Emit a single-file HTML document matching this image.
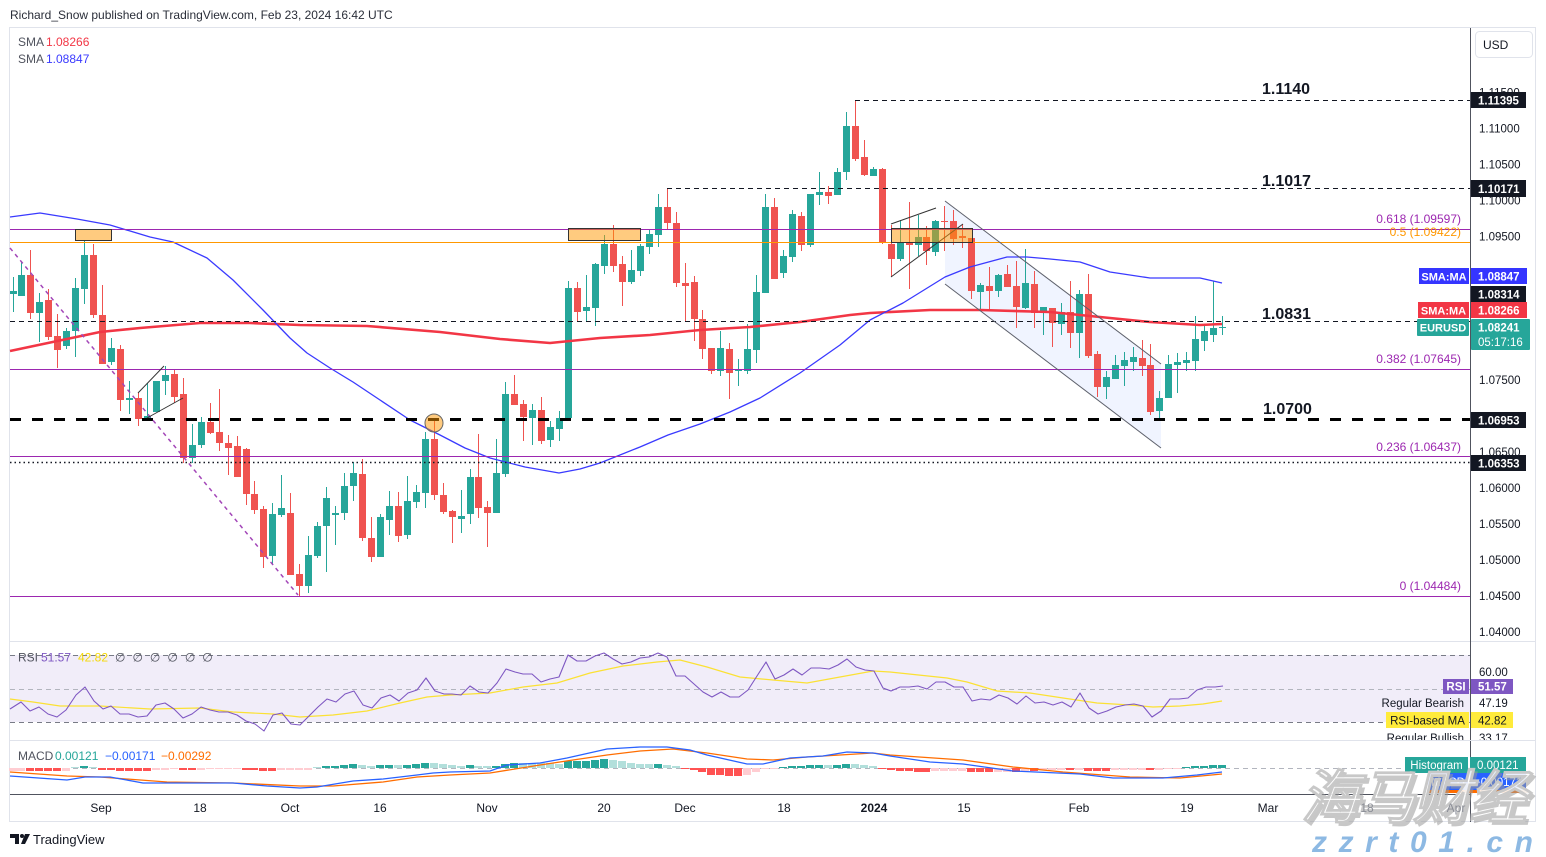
<!DOCTYPE html>
<html><head><meta charset="utf-8"><style>
html,body{margin:0;padding:0;background:#fff;}
svg{display:block;}
text{font-family:"Liberation Sans",Arial,sans-serif;}
</style></head><body>
<svg width="1546" height="857" viewBox="0 0 1546 857" xmlns="http://www.w3.org/2000/svg">
<defs><clipPath id="rsiclip"><rect x="1300" y="642" width="246" height="98"/></clipPath></defs>
<rect width="1546" height="857" fill="#fff"/>
<text x="10" y="19" font-size="12" fill="#2a2e39">Richard_Snow published on TradingView.com, Feb 23, 2024 16:42 UTC</text>
<rect x="9.5" y="27.5" width="1526" height="794" fill="none" stroke="#e0e3eb"/>

<!-- RSI band -->
<rect x="10" y="655" width="1460" height="67" fill="#f1edf9"/>
<g stroke="#787b86" stroke-dasharray="5 4" stroke-width="1">
<line x1="10" y1="655.5" x2="1470" y2="655.5"/>
<line x1="10" y1="722.5" x2="1470" y2="722.5"/>
<line x1="10" y1="689.5" x2="1470" y2="689.5" stroke="#b2b5be"/>
<line x1="10" y1="768.5" x2="1470" y2="768.5" stroke="#b2b5be"/>
</g>
<g stroke="#e0e3eb" stroke-width="1">
<line x1="10" y1="641.5" x2="1536" y2="641.5"/>
<line x1="10" y1="740.5" x2="1536" y2="740.5"/>
</g>
<line x1="10" y1="794.5" x2="1470" y2="794.5" stroke="#50535e"/>
<line x1="1470.5" y1="28" x2="1470.5" y2="822" stroke="#50535e"/>

<polygon points="945,201 1161,364 1161,448 945,284" fill="rgba(41,98,255,0.07)"/>

<!-- candles -->
<path fill="#26a69a" d="M10 291h7v3h-7zM18 275h7v21h-7zM36 302h7v11h-7zM63 331h7v15h-7zM72 288h7v43h-7zM81 255h7v34h-7zM108 348h7v14h-7zM126 398h7v2h-7zM144 416h7v3h-7zM153 381h7v31h-7zM162 375h7v6h-7zM189 445h7v13h-7zM198 422h7v23h-7zM269 514h7v42h-7zM278 508h7v7h-7zM305 555h7v31h-7zM314 526h7v30h-7zM323 498h7v28h-7zM332 513h7v2h-7zM341 486h7v27h-7zM350 473h7v13h-7zM377 517h7v40h-7zM386 506h7v14h-7zM404 501h7v34h-7zM413 492h7v10h-7zM422 439h7v54h-7zM458 516h7v3h-7zM467 477h7v37h-7zM493 473h7v40h-7zM502 394h7v80h-7zM529 410h7v8h-7zM547 427h7v13h-7zM556 418h7v11h-7zM565 288h7v130h-7zM583 307h7v4h-7zM592 264h7v44h-7zM601 244h7v22h-7zM628 270h7v12h-7zM637 246h7v25h-7zM646 234h7v13h-7zM655 207h7v28h-7zM717 348h7v23h-7zM735 369h7v2h-7zM744 349h7v22h-7zM753 292h7v58h-7zM762 207h7v86h-7zM780 256h7v17h-7zM789 214h7v43h-7zM807 194h7v51h-7zM816 192h7v3h-7zM834 172h7v23h-7zM843 126h7v46h-7zM870 169h7v7h-7zM897 242h7v17h-7zM915 237h7v8h-7zM932 221h7v31h-7zM977 285h7v7h-7zM995 275h7v16h-7zM1022 283h7v25h-7zM1040 307h7v6h-7zM1058 312h7v12h-7zM1076 294h7v39h-7zM1103 377h7v10h-7zM1112 365h7v14h-7zM1121 360h7v6h-7zM1130 357h7v5h-7zM1156 398h7v13h-7zM1165 364h7v34h-7zM1174 362h7v3h-7zM1183 360h7v3h-7zM1192 339h7v22h-7zM1201 331h7v10h-7zM1210 328h7v7h-7zM1219 327h7v1h-7z"/>
<path stroke="#26a69a" stroke-width="1" fill="none" d="M13.5 277V312M21.5 262V296M39.5 293V342M66.5 328V349M75.5 278V357M84.5 240V304M111.5 338V365M129.5 381V414M147.5 383V420M156.5 381V412M165.5 366V395M192.5 424V463M201.5 417V448M272.5 503V565M281.5 475V517M308.5 536V593M317.5 522V558M326.5 487V572M335.5 506V545M344.5 473V520M353.5 462V501M380.5 514V557M389.5 491V535M407.5 476V539M416.5 485V508M425.5 432V508M461.5 490V533M470.5 469V524M496.5 439V513M505.5 382V477M532.5 404V445M550.5 421V447M559.5 411V441M568.5 281V420M586.5 275V321M595.5 263V326M604.5 235V274M631.5 250V284M640.5 244V276M649.5 230V254M658.5 194V247M720.5 331V376M738.5 359V386M747.5 324V374M756.5 275V363M765.5 194V293M783.5 250V278M792.5 210V262M810.5 194V247M819.5 172V205M837.5 168V195M846.5 112V180M873.5 167V176M900.5 220V261M918.5 215V256M935.5 220V256M980.5 283V311M998.5 274V297M1025.5 249V309M1043.5 307V335M1061.5 303V335M1079.5 290V358M1106.5 371V399M1115.5 355V379M1124.5 352V386M1133.5 347V371M1159.5 391V419M1168.5 355V398M1177.5 353V393M1186.5 352V371M1195.5 316V371M1204.5 326V351M1213.5 281V342M1222.5 316V335"/>
<path fill="#ef5350" d="M27 275h7v38h-7zM45 300h7v37h-7zM54 336h7v14h-7zM90 255h7v60h-7zM99 315h7v49h-7zM117 349h7v51h-7zM135 398h7v21h-7zM171 374h7v23h-7zM180 394h7v64h-7zM207 422h7v11h-7zM216 432h7v11h-7zM225 443h7v5h-7zM234 446h7v31h-7zM243 449h7v45h-7zM251 494h7v16h-7zM260 509h7v48h-7zM287 513h7v62h-7zM296 574h7v12h-7zM359 474h7v64h-7zM368 538h7v19h-7zM395 506h7v30h-7zM431 439h7v56h-7zM440 495h7v17h-7zM449 511h7v6h-7zM475 477h7v31h-7zM484 507h7v6h-7zM511 394h7v11h-7zM520 404h7v13h-7zM538 410h7v31h-7zM574 288h7v24h-7zM610 244h7v22h-7zM619 264h7v18h-7zM664 207h7v16h-7zM673 223h7v60h-7zM682 283h7v3h-7zM691 282h7v37h-7zM699 319h7v30h-7zM708 348h7v23h-7zM726 349h7v24h-7zM771 207h7v72h-7zM798 216h7v29h-7zM825 192h7v4h-7zM852 126h7v33h-7zM861 157h7v18h-7zM879 169h7v73h-7zM888 244h7v15h-7zM906 242h7v3h-7zM923 237h7v14h-7zM941 221h7v1h-7zM950 221h7v18h-7zM959 236h7v2h-7zM968 238h7v53h-7zM986 286h7v5h-7zM1004 274h7v13h-7zM1013 286h7v21h-7zM1031 284h7v29h-7zM1049 308h7v15h-7zM1067 312h7v21h-7zM1085 294h7v62h-7zM1094 354h7v33h-7zM1139 358h7v8h-7zM1147 365h7v47h-7z"/>
<path stroke="#ef5350" stroke-width="1" fill="none" d="M30.5 250V319M48.5 289V340M57.5 314V368M93.5 244V318M102.5 285V364M120.5 345V411M138.5 393V426M174.5 370V403M183.5 378V463M210.5 403V434M219.5 389V451M228.5 435V475M237.5 436V477M246.5 448V505M254.5 481V514M263.5 506V568M290.5 493V575M299.5 564V596M362.5 459V541M371.5 517V562M398.5 492V542M434.5 418V500M443.5 483V514M452.5 510V543M478.5 434V518M487.5 501V547M514.5 375V405M523.5 400V441M541.5 397V444M577.5 282V321M613.5 225V272M622.5 256V306M667.5 188V229M676.5 212V287M685.5 263V322M694.5 276V341M702.5 310V359M711.5 348V374M729.5 343V399M774.5 198V279M801.5 212V251M828.5 186V204M855.5 100V161M864.5 140V176M882.5 168V244M891.5 225V277M909.5 202V289M926.5 226V265M944.5 206V251M953.5 210V245M962.5 224V248M971.5 238V299M989.5 267V311M1007.5 265V287M1016.5 261V328M1034.5 271V328M1052.5 308V347M1070.5 281V348M1088.5 274V358M1097.5 351V397M1142.5 340V376M1150.5 344V415"/>

<!-- SMA lines -->
<polyline fill="none" stroke="#f23645" stroke-width="2.6" stroke-linejoin="round" points="10,351 100,332 140,328 200,323 250,323 300,325 367,326 440,332 500,339 550,343 600,338 650,335 700,330 750,327 800,322 850,315 870,313 930,310 980,310 1050,312 1100,317 1150,322 1200,325 1222,324"/>
<polyline fill="none" stroke="#3a3aff" stroke-width="1.3" stroke-linejoin="round" points="10,217 40,213 77,219 110,225 150,237 173,242 207,258 233,280 263,310 290,338 307,353 330,368 353,382 380,400 410,420 440,435 465,448 490,458 525,467 559,473 580,469 600,463 640,447 668,435 700,424 730,412 760,398 800,373 840,345 870,320 903,303 945,277 970,267 1007,257 1027,257 1050,259 1080,262 1110,272 1150,278 1200,278 1222,283"/>

<!-- horizontal levels -->
<g stroke-width="1">
<line x1="10" y1="229.5" x2="1470" y2="229.5" stroke="#9c27b0"/>
<line x1="10" y1="242.5" x2="1470" y2="242.5" stroke="#ff9800"/>
<line x1="10" y1="369.5" x2="1470" y2="369.5" stroke="#9c27b0"/>
<line x1="10" y1="456.5" x2="1470" y2="456.5" stroke="#9c27b0"/>
<line x1="10" y1="596.5" x2="1470" y2="596.5" stroke="#9c27b0"/>
<line x1="10" y1="321.5" x2="1470" y2="321.5" stroke="#131722" stroke-dasharray="5 4"/>
<line x1="855" y1="100.5" x2="1470" y2="100.5" stroke="#131722" stroke-dasharray="5 4"/>
<line x1="667" y1="188.5" x2="1470" y2="188.5" stroke="#131722" stroke-dasharray="5 4"/>
<line x1="10" y1="462.5" x2="1470" y2="462.5" stroke="#131722" stroke-width="1.5" stroke-dasharray="1.5 3"/>
</g>
<line x1="10" y1="419.5" x2="1470" y2="419.5" stroke="#000" stroke-width="3" stroke-dasharray="11 11"/>

<!-- drawings -->
<line x1="10" y1="248" x2="298" y2="595" stroke="#a346b8" stroke-width="1.5" stroke-dasharray="4 4"/>
<g stroke="#333" stroke-width="1" fill="none">
<line x1="138" y1="393" x2="164" y2="366"/>
<line x1="147" y1="418" x2="183" y2="398"/>
<line x1="891" y1="224" x2="936" y2="208"/>
<line x1="891" y1="277" x2="963" y2="224"/>
</g>
<g stroke="#5d606b" stroke-width="1">
<line x1="945" y1="201" x2="1161" y2="364"/>
<line x1="945" y1="284" x2="1161" y2="448"/>
</g>
<g fill="rgba(255,152,0,0.5)" stroke="#333" stroke-width="1">
<rect x="75.5" y="229.5" width="36" height="11"/>
<rect x="568.5" y="228.5" width="72" height="12"/>
<rect x="891.5" y="228.5" width="81" height="14"/>
<circle cx="434" cy="423" r="9" stroke="#666"/>
</g>

<!-- level labels -->
<g font-size="16" font-weight="bold" fill="#131722">
<text x="1262" y="94">1.1140</text>
<text x="1262" y="186">1.1017</text>
<text x="1262" y="319">1.0831</text>
<text x="1263" y="414">1.0700</text>
</g>
<g font-size="12" fill="#9c27b0" text-anchor="end">
<text x="1461" y="223">0.618 (1.09597)</text>
<text x="1461" y="236" fill="#ff9800">0.5 (1.09422)</text>
<text x="1461" y="363">0.382 (1.07645)</text>
<text x="1461" y="451">0.236 (1.06437)</text>
<text x="1461" y="590">0 (1.04484)</text>
</g>

<g font-size="12">
<text x="18" y="46" fill="#50535e">SMA</text><text x="46" y="46" fill="#f23645">1.08266</text>
<text x="18" y="63" fill="#50535e">SMA</text><text x="46" y="63" fill="#3a3aff">1.08847</text>
</g>

<!-- price axis -->
<rect x="1475.5" y="31.5" width="57" height="26" rx="4" fill="#fff" stroke="#e0e3eb"/>
<text x="1483" y="49" font-size="12" fill="#131722">USD</text>
<g font-size="11.5" fill="#131722">
<text x="1479" y="96.5">1.11500</text>
<text x="1479" y="132.5">1.11000</text>
<text x="1479" y="168.5">1.10500</text>
<text x="1479" y="204.5">1.10000</text>
<text x="1479" y="240.5">1.09500</text>
<text x="1479" y="276.5">1.09000</text>
<text x="1479" y="384">1.07500</text>
<text x="1479" y="456">1.06500</text>
<text x="1479" y="492">1.06000</text>
<text x="1479" y="528">1.05500</text>
<text x="1479" y="564">1.05000</text>
<text x="1479" y="600">1.04500</text>
<text x="1479" y="636">1.04000</text>
</g>
<g font-size="11.5" font-weight="bold" fill="#fff">
<rect x="1471" y="92" width="55" height="16" fill="#131722"/><text x="1478" y="104.5">1.11395</text>
<rect x="1471" y="180" width="55" height="17" fill="#131722"/><text x="1478" y="193">1.10171</text>
<rect x="1419" y="268" width="50" height="16" fill="#3535ff"/><text x="1444" y="280.5" text-anchor="middle" font-size="11">SMA:MA</text>
<rect x="1471" y="268" width="56" height="16" fill="#3535ff"/><text x="1478" y="280.5">1.08847</text>
<rect x="1471" y="286" width="55" height="16" fill="#131722"/><text x="1478" y="298.5">1.08314</text>
<rect x="1418" y="302" width="51" height="16" fill="#f23645"/><text x="1443.5" y="314.5" text-anchor="middle" font-size="11">SMA:MA</text>
<rect x="1471" y="302" width="56" height="16" fill="#f23645"/><text x="1478" y="314.5">1.08266</text>
<rect x="1417" y="319" width="52" height="17" fill="#26a69a" rx="1"/><text x="1443" y="331.5" text-anchor="middle" font-size="11">EURUSD</text>
<rect x="1471" y="319" width="59" height="31" fill="#26a69a" rx="1"/><text x="1478" y="331.5">1.08241</text><text x="1478" y="346" font-weight="normal">05:17:16</text>
<rect x="1471" y="412" width="55" height="16" fill="#131722"/><text x="1478" y="424.5">1.06953</text>
<rect x="1471" y="455" width="55" height="16" fill="#131722"/><text x="1478" y="467.5">1.06353</text>
</g>

<!-- RSI -->
<polyline fill="none" stroke="#fbe134" stroke-width="1.2" points="10,699 33,702 60,706 100,706 150,709 200,708 233,712 273,714 300,717 333,715 367,711 400,703 427,697 450,695 490,693 523,687 557,683 590,673 623,666 657,662 680,660 707,667 740,677 773,680 807,683 840,677 873,671 890,672 947,678 967,682 997,691 1030,693 1063,698 1097,703 1130,705 1153,707 1180,706 1203,704 1222,701"/>
<polyline fill="none" stroke="#7e57c2" stroke-width="1.1" stroke-linejoin="round" points="10,709 21,702 30,711 39,707 48,714 57,717 66,710 76,695 85,687 94,701 103,709 111,706 120,714 129,714 138,717 147,716 156,705 165,703 174,709 183,718 192,714 201,707 210,710 219,712 228,712 237,715 246,721 255,724 264,731 273,715 282,713 291,724 300,725 309,716 318,707 327,699 336,702 345,694 354,691 363,705 372,708 381,698 390,695 399,701 408,693 417,690 426,678 435,691 444,694 452,694 461,695 470,686 479,692 488,693 497,683 506,669 515,672 523,674 532,674 541,682 550,679 559,677 568,655 577,661 586,661 595,656 604,653 613,659 622,664 631,662 640,658 649,657 658,653 667,657 676,676 685,676 694,684 703,692 712,697 721,692 730,697 739,697 748,690 757,676 766,662 775,679 784,675 793,669 802,675 811,668 820,668 829,669 838,665 847,659 856,667 865,670 874,671 883,688 891,691 900,687 909,687 918,686 927,689 936,682 945,682 954,687 963,687 972,701 981,699 990,700 999,695 1008,698 1017,704 1026,696 1035,703 1044,702 1053,705 1062,702 1071,707 1080,693 1089,708 1098,714 1107,711 1116,707 1125,705 1134,704 1143,706 1152,717 1161,711 1170,699 1179,699 1188,698 1197,690 1206,687 1215,687 1223,686"/>
<g font-size="12">
<text x="18" y="661.5" fill="#50535e">RSI</text>
<text x="41" y="661.5" fill="#7e57c2">51.57</text>
<text x="78" y="661.5" fill="#f5d90a">42.82</text>
<text x="115" y="661.5" fill="#50535e" letter-spacing="7">∅∅∅∅∅∅</text>
</g>
<g font-size="11.5" clip-path="url(#rsiclip)">
<text x="1479" y="676" fill="#131722">60.00</text>
<rect x="1443" y="679" width="26" height="15" fill="#7e57c2"/><text x="1456" y="690.5" fill="#fff" font-weight="bold" text-anchor="middle">RSI</text>
<rect x="1471" y="679" width="42" height="15" fill="#7e57c2"/><text x="1478" y="690.5" fill="#fff" font-weight="bold">51.57</text>
<text x="1464" y="707" fill="#131722" text-anchor="end">Regular Bearish</text>
<text x="1479" y="707" fill="#131722">47.19</text>
<rect x="1386" y="712" width="83" height="16" fill="#ffeb3b"/><text x="1427.5" y="724.5" fill="#131722" text-anchor="middle">RSI-based MA</text>
<rect x="1471" y="712" width="42" height="16" fill="#ffeb3b"/><text x="1478" y="724.5" fill="#131722">42.82</text>
<text x="1464" y="742" fill="#131722" text-anchor="end">Regular Bullish</text>
<text x="1479" y="742" fill="#131722">33.17</text>
</g>
<rect x="1370" y="740" width="166" height="1" fill="#e0e3eb"/>

<!-- MACD -->
<path fill="#26a69a" d="M80 766h8v2h-8zM322 766h8v2h-8zM331 766h8v2h-8zM340 765h8v3h-8zM349 764h8v4h-8zM376 765h8v3h-8zM385 765h8v3h-8zM403 765h8v3h-8zM412 764h8v4h-8zM421 763h8v5h-8zM466 765h8v3h-8zM492 766h8v2h-8zM501 764h8v4h-8zM510 763h8v5h-8zM564 761h8v7h-8zM573 761h8v7h-8zM582 761h8v7h-8zM591 760h8v8h-8zM600 759h8v9h-8zM654 764h8v4h-8zM779 767h8v1h-8zM788 766h8v2h-8zM797 766h8v2h-8zM806 765h8v3h-8zM815 765h8v3h-8zM833 765h8v3h-8zM842 764h8v4h-8zM1182 767h8v1h-8zM1191 766h8v2h-8zM1200 766h8v2h-8zM1209 765h8v3h-8zM1218 765h8v3h-8z"/>
<path fill="#b2dfdb" d="M71 767h8v1h-8zM89 767h8v1h-8zM313 767h8v1h-8zM358 765h8v3h-8zM367 766h8v2h-8zM394 765h8v3h-8zM430 763h8v5h-8zM439 764h8v4h-8zM448 765h8v3h-8zM457 766h8v2h-8zM474 766h8v2h-8zM483 766h8v2h-8zM519 763h8v5h-8zM528 763h8v5h-8zM537 763h8v5h-8zM546 763h8v5h-8zM555 764h8v4h-8zM609 760h8v8h-8zM618 761h8v7h-8zM627 763h8v5h-8zM636 764h8v4h-8zM645 764h8v4h-8zM663 765h8v3h-8zM672 766h8v2h-8zM824 765h8v3h-8zM851 764h8v4h-8zM860 765h8v3h-8zM869 766h8v2h-8z"/>
<path fill="#ff5252" d="M26 768h8v3h-8zM35 768h8v3h-8zM44 768h8v3h-8zM53 768h8v3h-8zM98 768h8v2h-8zM107 768h8v2h-8zM116 768h8v3h-8zM125 768h8v3h-8zM134 768h8v3h-8zM143 768h8v3h-8zM179 768h8v2h-8zM188 768h8v2h-8zM242 768h8v2h-8zM250 768h8v2h-8zM259 768h8v3h-8zM268 768h8v3h-8zM681 768h8v1h-8zM690 768h8v2h-8zM698 768h8v4h-8zM707 768h8v7h-8zM716 768h8v7h-8zM725 768h8v8h-8zM734 768h8v8h-8zM878 768h8v1h-8zM887 768h8v2h-8zM896 768h8v3h-8zM905 768h8v3h-8zM914 768h8v4h-8zM922 768h8v4h-8zM967 768h8v4h-8zM976 768h8v4h-8zM985 768h8v4h-8zM1012 768h8v4h-8zM1030 768h8v3h-8zM1066 768h8v2h-8zM1084 768h8v3h-8zM1093 768h8v3h-8zM1102 768h8v3h-8zM1146 768h8v2h-8z"/>
<path fill="#ffcdd2" d="M9 768h8v3h-8zM17 768h8v3h-8zM62 768h8v3h-8zM152 768h8v2h-8zM161 768h8v2h-8zM170 768h8v1h-8zM197 768h8v2h-8zM206 768h8v1h-8zM215 768h8v1h-8zM224 768h8v1h-8zM233 768h8v1h-8zM277 768h8v2h-8zM286 768h8v2h-8zM295 768h8v2h-8zM304 768h8v2h-8zM743 768h8v7h-8zM752 768h8v4h-8zM761 768h8v1h-8zM770 768h8v1h-8zM931 768h8v3h-8zM940 768h8v3h-8zM949 768h8v3h-8zM958 768h8v3h-8zM994 768h8v4h-8zM1003 768h8v4h-8zM1021 768h8v3h-8zM1039 768h8v2h-8zM1048 768h8v2h-8zM1057 768h8v2h-8zM1075 768h8v2h-8zM1111 768h8v2h-8zM1120 768h8v2h-8zM1129 768h8v2h-8zM1138 768h8v2h-8zM1155 768h8v2h-8zM1164 768h8v1h-8zM1173 768h8v1h-8z"/>
<polyline fill="none" stroke="#ff6d00" stroke-width="1.3" points="10,772 67,776 100,777 167,782 233,783 300,786 333,786 383,782 417,777 450,775 490,773 540,765 573,760 607,755 640,751 673,749 707,753 747,759 773,760 807,757 840,755 873,753 890,755 963,760 1013,767 1063,772 1130,777 1180,778 1222,774"/>
<polyline fill="none" stroke="#2962ff" stroke-width="1.3" points="10,776 67,780 85,777 110,777 143,783 180,783 233,783 267,786 300,788 317,787 353,781 383,779 417,775 433,773 450,772 490,771 507,765 540,763 567,758 607,749 640,747 667,747 690,750 707,755 747,764 763,764 790,758 823,756 847,752 873,753 890,756 930,762 963,764 1013,771 1080,774 1113,778 1163,778 1197,775 1222,772"/>
<g font-size="12">
<text x="18" y="760" fill="#50535e">MACD</text>
<text x="55" y="760" fill="#26a69a">0.00121</text>
<text x="105" y="760" fill="#2962ff">−0.00171</text>
<text x="161" y="760" fill="#ff6d00">−0.00292</text>
</g>
<g font-size="11.5">
<rect x="1405" y="757" width="63" height="16" fill="#26a69a"/><text x="1436.5" y="769" fill="#fff" text-anchor="middle">Histogram</text>
<rect x="1470" y="757" width="56" height="16" fill="#26a69a"/><text x="1477" y="769" fill="#fff">0.00121</text>
<rect x="1428" y="773" width="40" height="17" fill="#2962ff"/><text x="1448" y="786" fill="#fff" text-anchor="middle">MACD</text>
<rect x="1470" y="773" width="56" height="17" fill="#2962ff"/><text x="1474" y="786" fill="#fff">−0.00171</text>
<rect x="1428" y="790" width="100" height="3" fill="#ff6d00"/>
</g>

<!-- time axis -->
<g font-size="12" fill="#131722" text-anchor="middle">
<text x="101" y="812">Sep</text>
<text x="200" y="812">18</text>
<text x="290" y="812">Oct</text>
<text x="380" y="812">16</text>
<text x="487" y="812">Nov</text>
<text x="604" y="812">20</text>
<text x="685" y="812">Dec</text>
<text x="784" y="812">18</text>
<text x="874" y="812" font-weight="bold">2024</text>
<text x="964" y="812">15</text>
<text x="1079" y="812">Feb</text>
<text x="1187" y="812">19</text>
<text x="1268" y="812">Mar</text>
</g>

<g fill="#131722">
<path d="M10 834h9v10h-4v-6h-5z"/>
<circle cx="22" cy="836" r="2"/>
<path d="M25 834h5l-5 10h-4z"/>
</g>
<text x="33" y="844" font-size="13" fill="#131722">TradingView</text>

<!-- watermark -->
<g font-weight="bold" font-style="italic">
<text x="1304" y="821" font-size="58" fill="#9a9a9a" letter-spacing="-2" font-family="Noto Sans CJK SC, WenQuanYi Zen Hei, sans-serif" opacity="0.55">海马财经</text>
<text x="1301" y="818" font-size="58" fill="#ffffff" fill-opacity="0.88" stroke="#c8c8c8" stroke-width="1" letter-spacing="-2" font-family="Noto Sans CJK SC, WenQuanYi Zen Hei, sans-serif">海马财经</text>
<text x="1312" y="852" font-size="30" fill="#8db9e3" textLength="221" lengthAdjust="spacing">zzrt01.cn</text>
</g>
<g font-size="12" fill="#8a8d96" text-anchor="middle">
<text x="1367" y="812">18</text>
<text x="1456" y="812">Apr</text>
</g>
</svg>
</body></html>
